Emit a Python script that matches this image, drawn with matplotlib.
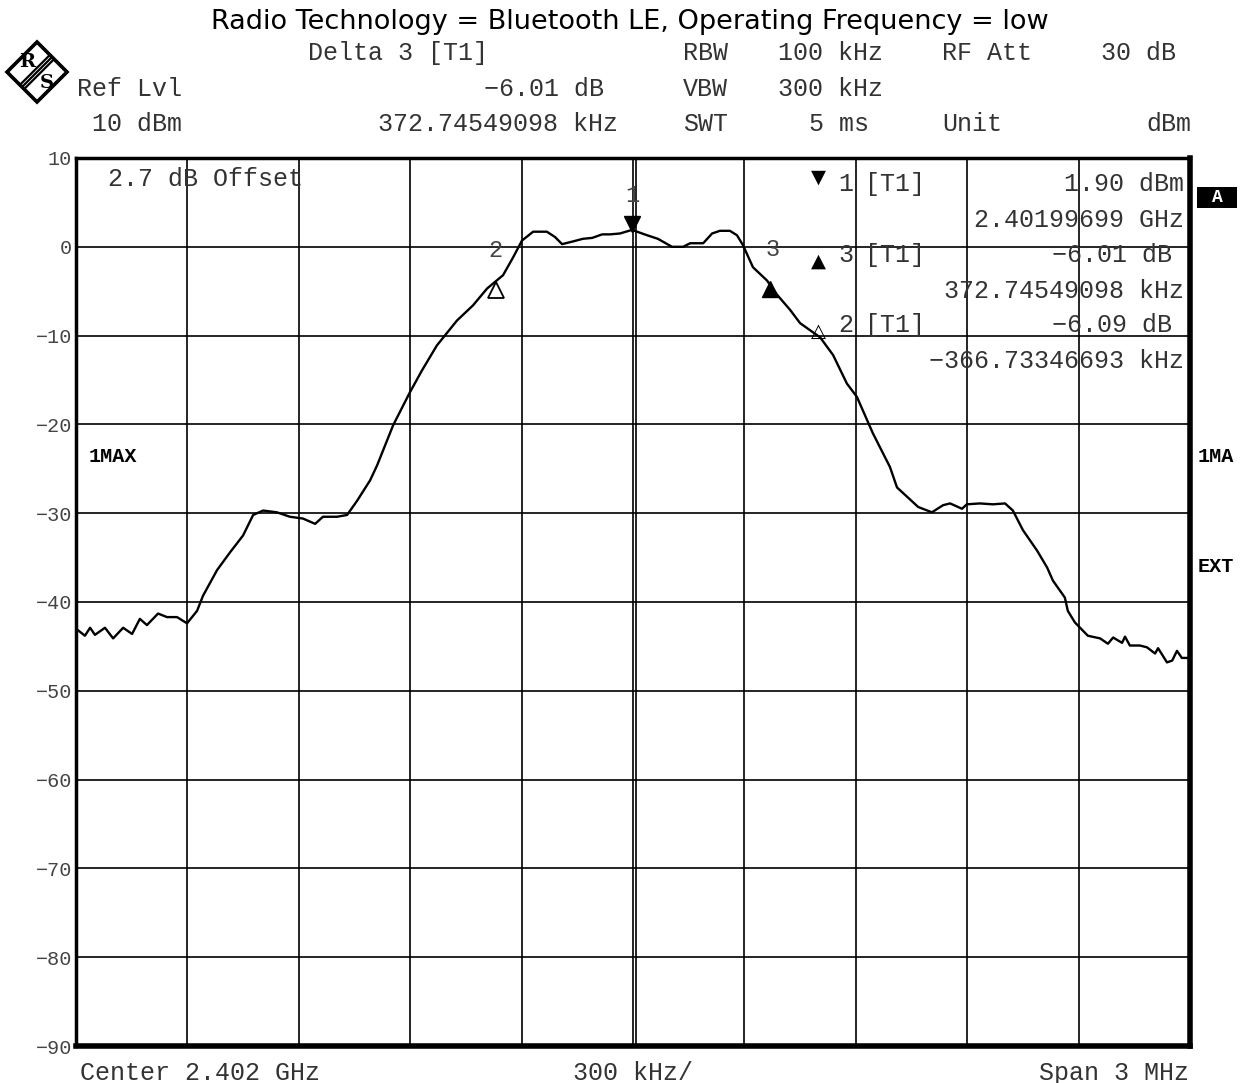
import matplotlib.pyplot as plt
import matplotlib.transforms as mtransforms
from matplotlib.patches import Polygon, Rectangle

# ____ Trace data (offset from center in kHz, level in dBm)
freq_khz = [-1500, -1476, -1462, -1449, -1422, -1400, -1373, -1349, -1328, -1309,
            -1279, -1255, -1228, -1201, -1174, -1158, -1120, -1085, -1050, -1023,
            -996, -959, -924, -889, -856, -835, -797, -770, -743, -708,
            -689, -646, -601, -568, -528, -474, -431, -393, -350, -323,
            -299, -269, -232, -210, -191, -162, -135, -110, -83, -62,
            -35, -3, 11, 38, 67, 105, 135, 154, 189, 213,
            234, 261, 280, 296, 323, 361, 388, 423, 450, 504,
            539, 576, 603, 646, 692, 711, 768, 805, 835, 854,
            886, 899, 934, 969, 1002, 1023, 1050, 1088, 1115, 1131,
            1163, 1171, 1190, 1225, 1258, 1279, 1293, 1317, 1325, 1338,
            1365, 1384, 1406, 1414, 1438, 1452, 1465, 1478, 1500]
level_dbm = [-43.0, -43.8, -42.9, -43.7, -42.9, -44.1, -42.9, -43.6, -41.9, -42.6,
             -41.3, -41.7, -41.7, -42.4, -41.0, -39.3, -36.4, -34.4, -32.5, -30.2,
             -29.7, -29.9, -30.4, -30.6, -31.2, -30.4, -30.4, -30.2, -28.6, -26.3,
             -24.6, -20.1, -16.4, -13.9, -11.1, -8.3, -6.6, -4.7, -3.2, -1.2,
             0.7, 1.7, 1.7, 1.1, 0.3, 0.6, 0.9, 1.0, 1.4, 1.4,
             1.5, 1.9, 1.7, 1.3, 0.9, 0.0, 0.0, 0.4, 0.4, 1.5,
             1.8, 1.8, 1.3, 0.2, -2.3, -3.8, -5.4, -7.1, -8.6, -10.2,
             -12.2, -15.4, -16.9, -21.0, -24.8, -27.1, -29.3, -29.9, -29.1, -28.9,
             -29.5, -29.0, -28.9, -29.0, -28.9, -29.7, -31.9, -34.2, -36.1, -37.6,
             -39.5, -41.0, -42.3, -43.8, -44.1, -44.7, -44.0, -44.6, -43.9, -44.9,
             -44.9, -45.1, -45.8, -45.2, -46.8, -46.6, -45.5, -46.3, -46.3]

# ____ Markers
marker_freq = [-3.01, -369.74, 369.74]
marker_level = [1.90, -4.19, -4.11]
marker_names = ['1', '2', '3']

y_ticks = [10, 0, -10, -20, -30, -40, -50, -60, -70, -80, -90]

W, H = 1249, 1083
MONO = ['Liberation Mono', 'DejaVu Sans Mono']


def px(x, y):
    return x / W, 1 - y / H


def ftext(fig, x, y, s, ha='left', size=18, **kw):
    fx, fy = px(x, y)
    kw.setdefault('family', MONO)
    kw.setdefault('color', '#333333')
    fig.text(fx, fy, s, ha=ha, va='center', fontsize=size, **kw)


fig = plt.figure(figsize=(W / 100, H / 100), dpi=100)
l, b = px(76, 1046)
r, t = px(1190, 158)
ax = fig.add_axes([l, b, r - l, t - b])

ax.set_xlim(-1500, 1500)
ax.set_ylim(-90, 10)
ax.set_xticks(range(-1500, 1501, 300))
ax.set_yticks(y_ticks)
ax.set_xticklabels([])
ax.set_yticklabels([f"{v}" if v >= 0 else f"\u2212{-v}" for v in y_ticks],
                   family=MONO, fontsize=14.5, color='#444444')
ax.tick_params(length=0, pad=3)
ax.grid(True, color='black', linewidth=1.2)
ax.axvline(8, color='black', linewidth=1.2)
for side in ['left', 'top']:
    ax.spines[side].set_linewidth(2.5)
for side in ['right', 'bottom']:
    ax.spines[side].set_linewidth(4.0)

ax.plot(freq_khz, level_dbm, color='black', linewidth=1.7, zorder=3)

# marker symbols on trace
down = mtransforms.ScaledTranslation(0, -6 / 100, fig.dpi_scale_trans)
up = mtransforms.ScaledTranslation(0, 6 / 100, fig.dpi_scale_trans)
ax.plot(marker_freq[0], marker_level[0], marker='v', color='black', markersize=11,
        transform=ax.transData + up, zorder=4)
ax.plot(marker_freq[1], marker_level[1], marker='^', markerfacecolor='white',
        markeredgecolor='black', markeredgewidth=1.3, markersize=11,
        transform=ax.transData + down, zorder=4)
ax.plot(marker_freq[2], marker_level[2], marker='^', color='black', markersize=11,
        transform=ax.transData + down, zorder=4)
label_off = [(0, 25), (0, 24), (2, 24)]
for f, lv, name, off in zip(marker_freq, marker_level, marker_names, label_off):
    ax.annotate(name, (f, lv), xytext=off, textcoords='offset points',
                ha='center', va='center', family=MONO, fontsize=17, color='#444444')

# ____ Title and header
ftext(fig, 630, 22, "Radio Technology = Bluetooth LE, Operating Frequency = low",
      ha='center', size=19.5, family='DejaVu Sans', color='black')

ftext(fig, 308, 53, "Delta 3 [T1]")
ftext(fig, 683, 53, "RBW")
ftext(fig, 778, 53, "100 kHz")
ftext(fig, 942, 53, "RF Att")
ftext(fig, 1176, 53, "30 dB", ha='right')

ftext(fig, 77, 89, "Ref Lvl")
ftext(fig, 604, 89, "\u22126.01 dB", ha='right')
ftext(fig, 683, 89, "VBW")
ftext(fig, 778, 89, "300 kHz")

ftext(fig, 92, 124, "10 dBm")
ftext(fig, 618, 124, "372.74549098 kHz", ha='right')
ftext(fig, 683, 124, "SWT")
ftext(fig, 869, 124, "5 ms", ha='right')
ftext(fig, 942, 124, "Unit")
ftext(fig, 1191, 124, "dBm", ha='right')

# ____ Inside plot texts
ftext(fig, 108, 179, "2.7 dB Offset")

ftext(fig, 818, 177, "\u25bc", ha='center', size=14, family='DejaVu Sans', color='black')
ftext(fig, 838, 184, "1")
ftext(fig, 865, 184, "[T1]")
ftext(fig, 1184, 184, "1.90 dBm", ha='right')
ftext(fig, 1184, 220, "2.40199699 GHz", ha='right')

ftext(fig, 818, 261, "\u25b2", ha='center', size=14, family='DejaVu Sans', color='black')
ftext(fig, 838, 255, "3")
ftext(fig, 865, 255, "[T1]")
ftext(fig, 1172, 255, "\u22126.01 dB", ha='right')
ftext(fig, 1184, 291, "372.74549098 kHz", ha='right')

ftext(fig, 818, 331, "\u25b3", ha='center', size=14, family='DejaVu Sans', color='black')
ftext(fig, 838, 325, "2")
ftext(fig, 865, 325, "[T1]")
ftext(fig, 1172, 325, "\u22126.09 dB", ha='right')
ftext(fig, 1184, 361, "\u2212366.73346693 kHz", ha='right')

ftext(fig, 89, 457, "1MAX", size=14.5, weight='bold', color='black')

# ____ Right side labels
fx, fy = px(1197, 208)
fig.patches.append(Rectangle((fx, fy), 40 / W, 21 / H, transform=fig.transFigure,
                             facecolor='black', edgecolor='none'))
ftext(fig, 1217, 197, "A", ha='center', size=13, weight='bold', color='white')
ftext(fig, 1198, 457, "1MA", size=14.5, weight='bold', color='black')
ftext(fig, 1198, 567, "EXT", size=14.5, weight='bold', color='black')

# ____ Bottom labels
ftext(fig, 80, 1073, "Center 2.402 GHz")
ftext(fig, 633, 1073, "300 kHz/", ha='center')
ftext(fig, 1189, 1073, "Span 3 MHz", ha='right')

# ____ R&S logo
cx, cy = 37, 72
d = 30
diamond = [px(cx, cy - d), px(cx + d, cy), px(cx, cy + d), px(cx - d, cy)]
fig.patches.append(Polygon(diamond, closed=True, transform=fig.transFigure,
                           facecolor='white', edgecolor='black', linewidth=2.6))
for k in (-3, 0, 3):
    x0, y0 = px(cx - d / 2 + k * 0.7, cy + d / 2 + k * 0.7)
    x1, y1 = px(cx + d / 2 + k * 0.7, cy - d / 2 + k * 0.7)
    fig.add_artist(plt.Line2D([x0, x1], [y0, y1], transform=fig.transFigure,
                              color='black', linewidth=1.6))
ftext(fig, 27, 62, "R", ha='center', size=14, family='DejaVu Serif', weight='bold',
      color='black')
ftext(fig, 47, 83, "S", ha='center', size=14, family='DejaVu Serif', weight='bold',
      color='black')

fig.savefig('out.png', dpi=100)
